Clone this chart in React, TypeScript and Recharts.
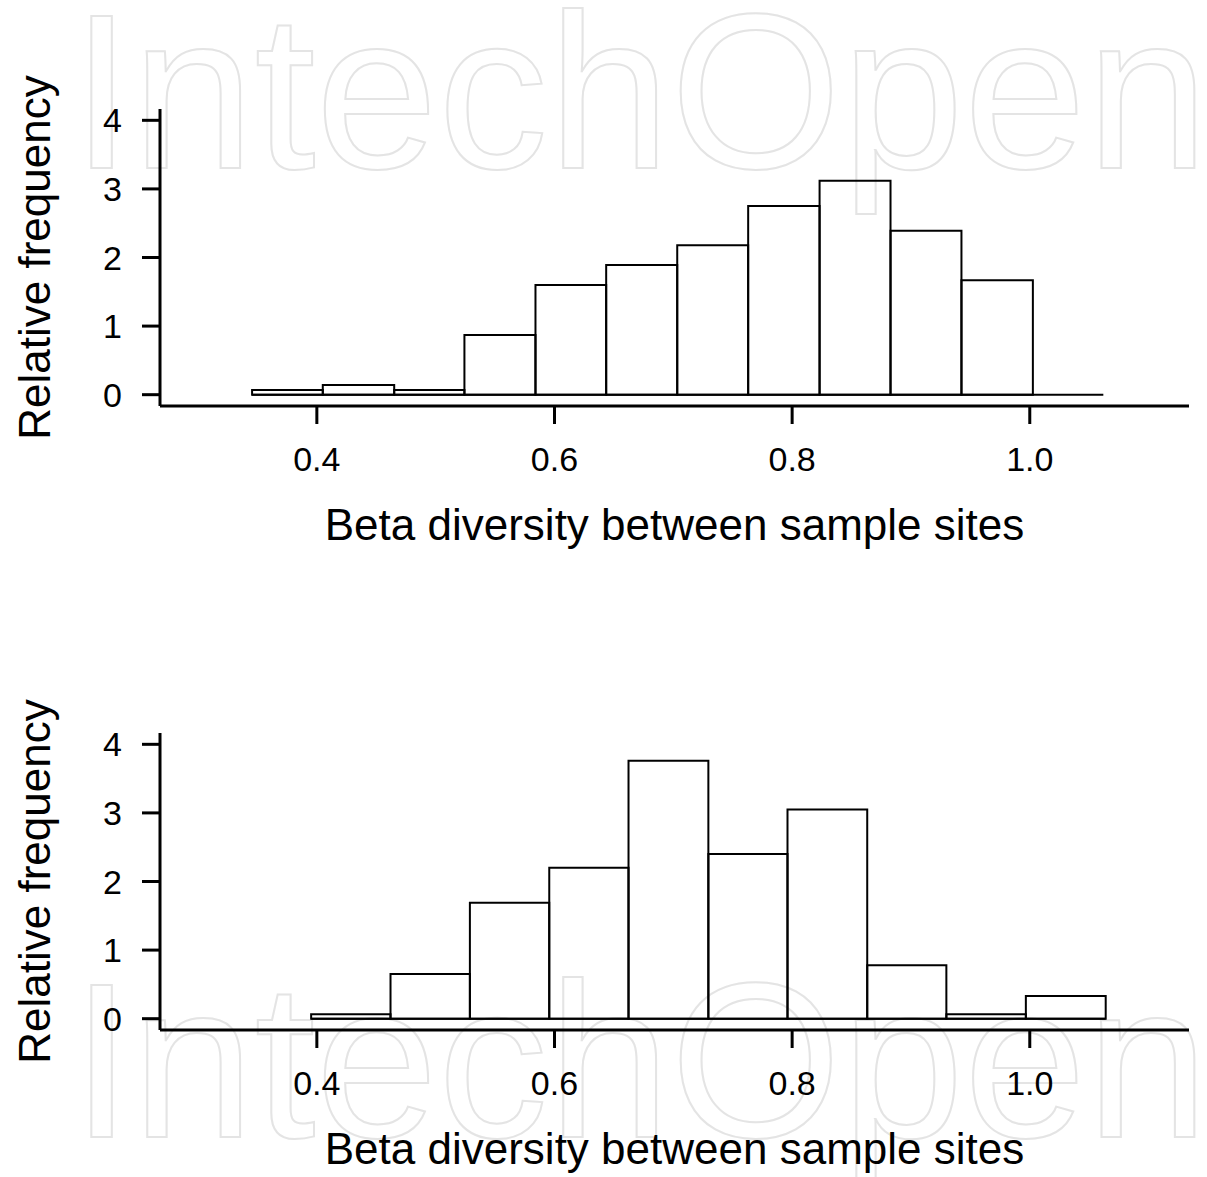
import React from 'react';
import {
  ComposedChart,
  XAxis,
  YAxis,
  ReferenceArea,
  ReferenceLine,
  Label,
} from 'recharts';

const FONT = '"Liberation Sans", Arial, Helvetica, sans-serif';

// Histogram 1: bin breaks and densities
const topBreaks = [0.3455, 0.405, 0.4651, 0.5242, 0.584, 0.6435, 0.7033, 0.763, 0.8231, 0.8828, 0.9425, 1.0026, 1.0619];
const topDensity = [0.07, 0.14, 0.07, 0.87, 1.6, 1.89, 2.18, 2.75, 3.12, 2.39, 1.67, 0];

// Histogram 2
const bottomBreaks = [0.3952, 0.462, 0.5288, 0.5956, 0.6623, 0.7295, 0.7961, 0.8632, 0.9298, 0.9967, 1.0639];
const bottomDensity = [0.064, 0.65, 1.69, 2.2, 3.76, 2.4, 3.05, 0.78, 0.064, 0.33];

const xTicks = [0.4, 0.6, 0.8, 1.0];
const yTicks = [0, 1, 2, 3, 4];
const xDomain: [number, number] = [0.268, 1.134];
const yDomain: [number, number] = [-0.165, 4.165];

const xTitle = 'Beta diversity between sample sites';
const yTitle = 'Relative frequency';
const watermark = 'IntechOpen';

type HistProps = {
  breaks: number[];
  density: number[];
  height: number;
};

const Histogram: React.FC<HistProps> = ({ breaks, density, height }) => {
  // one row per bin, used for the rectangles below
  const bins = density.map((d, i) => ({ x0: breaks[i], x1: breaks[i + 1], d }));

  return (
    <ComposedChart
      width={1207}
      height={height}
      data={bins}
      margin={{ top: 109, right: 18, left: 60, bottom: height - 406 - 140 }}
    >
      <XAxis
        type="number"
        dataKey="x0"
        domain={xDomain}
        ticks={xTicks}
        allowDataOverflow
        height={140}
        tickSize={18}
        tickMargin={23}
        tickFormatter={(v: number) => v.toFixed(1)}
        tick={{ fill: '#000', fontSize: 34, fontFamily: FONT }}
        axisLine={{ stroke: '#000', strokeWidth: 3 }}
        tickLine={{ stroke: '#000', strokeWidth: 3 }}
      >
        <Label
          content={({ viewBox }: any) => (
            <text
              x={viewBox.x + viewBox.width / 2}
              y={viewBox.y + 134}
              textAnchor="middle"
              fontSize={44}
              fontFamily={FONT}
              fill="#000"
            >
              {xTitle}
            </text>
          )}
        />
      </XAxis>
      <YAxis
        type="number"
        domain={yDomain}
        ticks={yTicks}
        allowDataOverflow
        width={100}
        tickSize={18}
        tickMargin={20}
        tick={{ fill: '#000', fontSize: 34, fontFamily: FONT }}
        axisLine={{ stroke: '#000', strokeWidth: 3 }}
        tickLine={{ stroke: '#000', strokeWidth: 3 }}
      >
        <Label
          content={({ viewBox }: any) => {
            const cx = 50;
            const cy = viewBox.y + viewBox.height / 2;
            return (
              <text
                x={cx}
                y={cy}
                transform={`rotate(-90, ${cx}, ${cy})`}
                textAnchor="middle"
                fontSize={44}
                fontFamily={FONT}
                fill="#000"
              >
                {yTitle}
              </text>
            );
          }}
        />
      </YAxis>

      {bins
        .filter(b => b.d > 0)
        .map((b, i) => (
          <ReferenceArea
            key={`bin-${i}`}
            x1={b.x0}
            x2={b.x1}
            y1={0}
            y2={b.d}
            fill="none"
            stroke="#000"
            strokeWidth={2}
            ifOverflow="visible"
          />
        ))}
      {/* base line of the bins, also covers empty ones */}
      <ReferenceLine
        segment={[
          { x: breaks[0], y: 0 },
          { x: breaks[breaks.length - 1], y: 0 },
        ]}
        stroke="#000"
        strokeWidth={2}
        ifOverflow="visible"
      />
    </ComposedChart>
  );
};

const App: React.FC = () => {
  return (
    <div
      style={{
        position: 'absolute',
        left: 0,
        top: 0,
        width: 1207,
        height: 1177,
        background: '#fff',
        overflow: 'hidden',
      }}
    >
      {/* watermark behind the charts */}
      <svg width={1207} height={1177} style={{ position: 'absolute', left: 0, top: 0 }}>
        <text x={71} y={168} fontSize={220} fontFamily={FONT} fill="none" stroke="#e4e4e4" strokeWidth={2}>
          {watermark}
        </text>
        <text x={71} y={1137} fontSize={220} fontFamily={FONT} fill="none" stroke="#e4e4e4" strokeWidth={2}>
          {watermark}
        </text>
      </svg>

      <div style={{ position: 'absolute', left: 0, top: 0 }}>
        <Histogram breaks={topBreaks} density={topDensity} height={590} />
      </div>
      <div style={{ position: 'absolute', left: 0, top: 624 }}>
        <Histogram breaks={bottomBreaks} density={bottomDensity} height={553} />
      </div>
    </div>
  );
};

export default App;
